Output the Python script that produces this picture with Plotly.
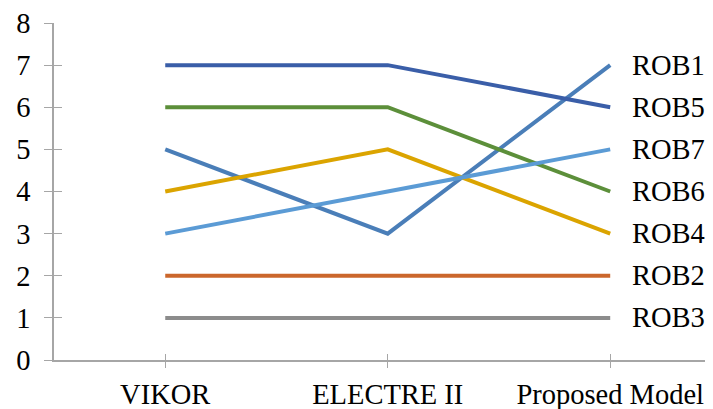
import plotly.graph_objects as go

categories = ["VIKOR", "ELECTRE II", "Proposed Model"]
series_names = ["ROB1", "ROB2", "ROB3", "ROB4", "ROB5", "ROB6", "ROB7"]
rob1 = [5, 3, 7]
rob2 = [2, 2, 2]
rob3 = [1, 1, 1]
rob4 = [4, 5, 3]
rob5 = [7, 7, 6]
rob6 = [6, 6, 4]
rob7 = [3, 4, 5]
y_ticks = [0, 1, 2, 3, 4, 5, 6, 7, 8]

values = [rob1, rob2, rob3, rob4, rob5, rob6, rob7]
colors = ["#4A7EB8", "#CB672C", "#8C8C8C", "#DBA400", "#3A5EA8", "#5C8F3A", "#5B9BD5"]

FONT = "Liberation Serif"
FS = 28.5
AXC = "#A6A6A6"
XR = [-0.5, 2.462]

fig = go.Figure()
for name, vals, col in zip(series_names, values, colors):
    fig.add_trace(go.Scatter(x=categories, y=vals, mode="lines", name=name,
                             line=dict(color=col, width=4), showlegend=False))
    fig.add_annotation(x=categories[-1], y=vals[-1], text=name, showarrow=False,
                       xanchor="left", yanchor="middle", xshift=20,
                       font=dict(family=FONT, size=FS, color="#000"))

# invisible traces for overlay axes (crossing ticks)
for xa in ["x2", "x3"]:
    fig.add_trace(go.Scatter(x=categories, y=[0, 0, 0], xaxis=xa, yaxis="y2",
                             mode="lines", line=dict(width=0), opacity=0,
                             showlegend=False, hoverinfo="skip"))

fig.update_layout(
    width=705, height=401,
    margin=dict(l=46, r=0, t=15, b=49),
    paper_bgcolor="white", plot_bgcolor="white",
    font=dict(family=FONT, size=FS, color="#000"),
    xaxis=dict(type="category", range=XR, showgrid=False, zeroline=False,
               showline=True, linecolor=AXC, linewidth=1.5,
               ticks="", ticklabelstandoff=8, automargin=False,
               ticklabeloverflow="allow"),
    yaxis=dict(range=[0, 8], tickvals=y_ticks, showgrid=False, zeroline=False,
               showline=True, linecolor=AXC, linewidth=1.5,
               ticks="outside", ticklen=8, tickcolor=AXC, tickwidth=1,
               ticklabelstandoff=8, automargin=False,
               ticklabeloverflow="allow"),
    xaxis2=dict(type="category", range=XR, overlaying="x", side="bottom",
                showgrid=False, zeroline=False, showline=False, showticklabels=False,
                ticks="inside", ticklen=6, tickcolor=AXC, tickwidth=1),
    xaxis3=dict(type="category", range=XR, overlaying="x", side="bottom",
                showgrid=False, zeroline=False, showline=False, showticklabels=False,
                ticks="outside", ticklen=7, tickcolor=AXC, tickwidth=1),
    yaxis2=dict(range=[0, 8], tickvals=y_ticks, overlaying="y", side="left",
                showgrid=False, zeroline=False, showline=False, showticklabels=False,
                ticks="inside", ticklen=8, tickcolor=AXC, tickwidth=1),
)

fig.write_html("out.html")
